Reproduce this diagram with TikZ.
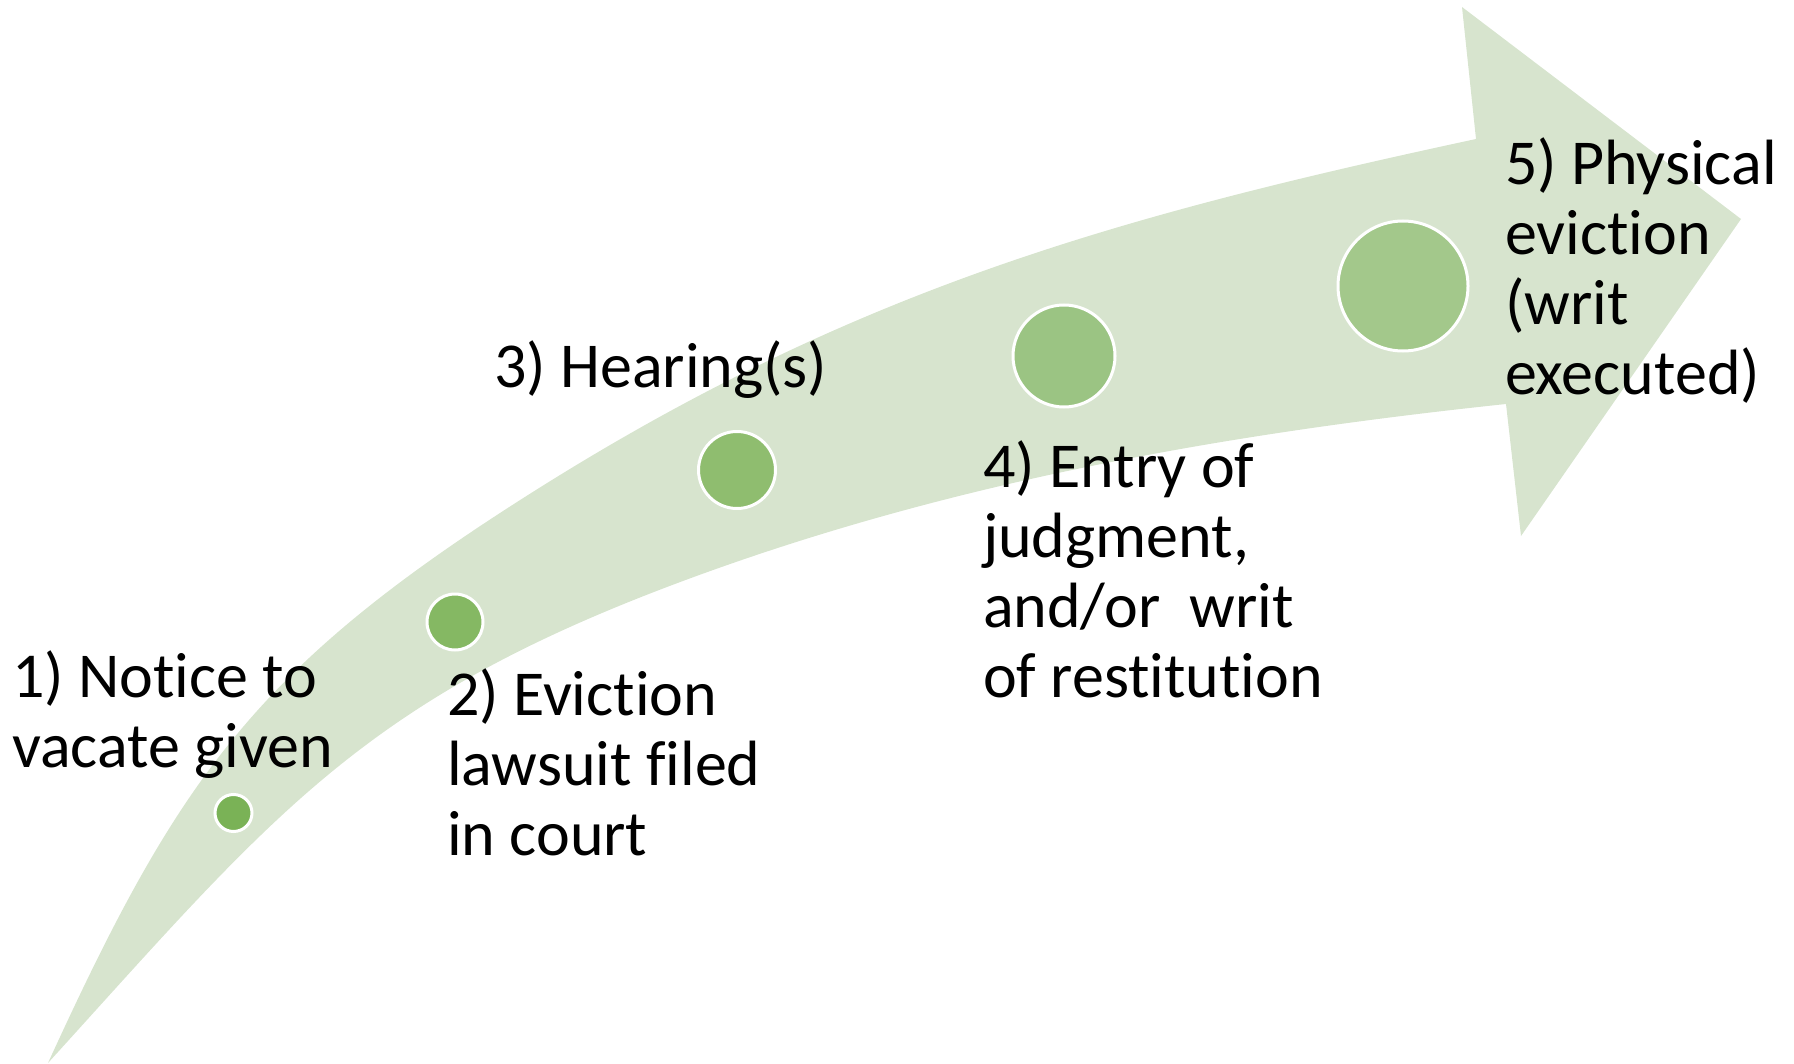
\documentclass[tikz,border=0pt]{standalone}
\usepackage{fontspec}
\setmainfont{Carlito}[Ligatures={NoCommon}]
\definecolor{arrowfill}{RGB}{215,228,206}
\definecolor{dotA}{RGB}{122,178,86}
\definecolor{dotB}{RGB}{133,184,99}
\definecolor{dotC}{RGB}{143,189,111}
\definecolor{dotD}{RGB}{155,196,131}
\definecolor{dotE}{RGB}{163,200,139}
\begin{document}
\begin{tikzpicture}[x=0.5pt,y=-0.5pt,
  dot/.style={circle, draw=white, line width=1.5pt, inner sep=0pt, outer sep=0pt},
  lbl/.style={anchor=base west, align=left, inner sep=0pt, outer sep=0pt, text=black,
    font=\fontsize{32pt}{35pt}\selectfont}]
\useasboundingbox (0,0) rectangle (1794,1064);
\fill[arrowfill] (48,1063) .. controls (172.8,790.3) and (248.6,676.5) .. (500,513)
  .. controls (835,295) and (1104,219) .. (1476,139)
  -- (1462,7) -- (1741,219) -- (1521,536) -- (1506,404)
  .. controls (1218,434.5) and (938,484) .. (667,587)
  .. controls (358.5,704.2) and (269.8,818.8) .. (48,1063) -- cycle;
\node[dot, fill=dotA, minimum size=18.5pt] (c1) at (233.5,813) {};
\node[dot, fill=dotB, minimum size=28pt] (c2) at (455,622) {};
\node[dot, fill=dotC, minimum size=38.5pt] (c3) at (737,470) {};
\node[dot, fill=dotD, minimum size=51pt] (c4) at (1064,356) {};
\node[dot, fill=dotE, minimum size=65pt] (c5) at (1403,286) {};
% base anchor of a multi-line node is the baseline of its last line
\node[lbl] (t1) at (12,767) {1) Notice to\\vacate given};
\node[lbl] (t2) at (447,855) {2) Eviction\\lawsuit filed\\in court};
\node[lbl] (t3) at (494,387) {3) Hearing(s)};
\node[lbl] (t4) at (983,697) {4) Entry of\\judgment,\\and/or\ \ writ\\of restitution};
\node[lbl] (t5) at (1505,394) {5) Physical\\eviction\\(writ\\executed)};
\end{tikzpicture}
\end{document}
